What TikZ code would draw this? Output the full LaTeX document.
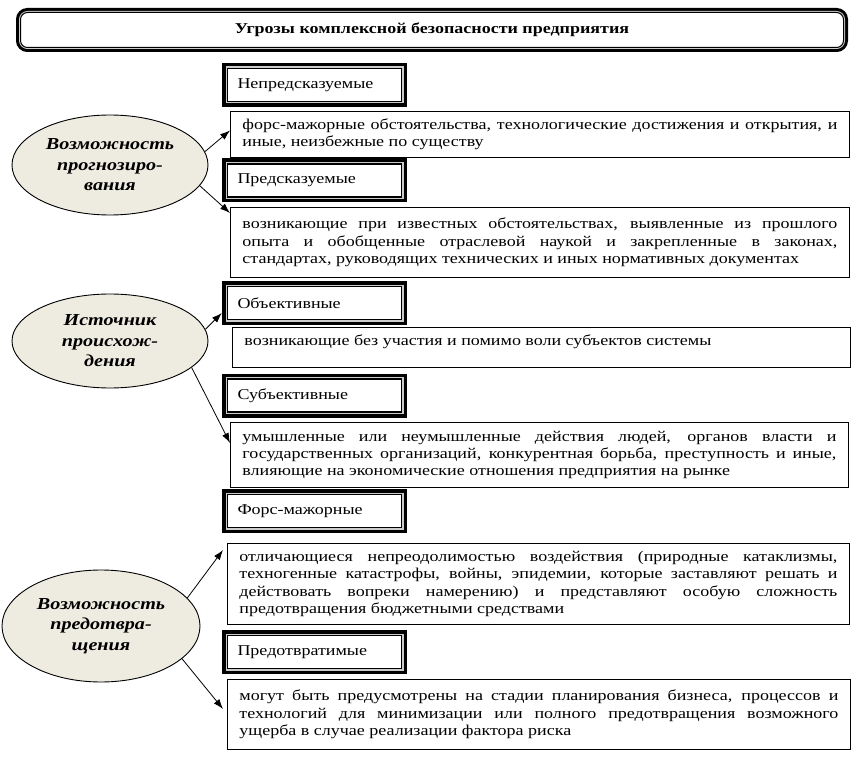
\documentclass[tikz,border=0pt]{standalone}
\usepackage{fontspec}
\setmainfont[FakeStretch=1.2]{Liberation Serif}
\usetikzlibrary{shapes.geometric,arrows.meta}
\definecolor{ovalfill}{RGB}{238,236,225}
\hyphenpenalty=10000
\tikzset{
	titlebox/.style={draw=black, line width=1pt, fill=white, rounded corners=7pt, minimum width=823pt, minimum height=35pt,
		preaction={draw=black, line width=9pt}, preaction={draw=gray!40, line width=3pt}, font=\fontsize{15}{17.3}\selectfont\bfseries},
	headbox/.style={draw=black, line width=1.3pt, fill=white, minimum width=174pt, minimum height=33pt, text width=154pt, inner xsep=10pt, align=left,
		preaction={draw=black, line width=11pt}, preaction={draw=gray!40, line width=4pt}, font=\fontsize{15}{17.3}\selectfont},
	textbox/.style={draw=black, line width=0.9pt, anchor=north west, align=justify, inner xsep=12pt, inner ysep=2pt, font=\fontsize{15}{17.3}\selectfont},
	oval/.style={draw=black, ellipse, fill=ovalfill, line width=0.9pt, inner sep=0pt, align=center, font=\fontsize{16.8}{20.5}\selectfont\bfseries\itshape},
	arr/.style={-{Latex[length=10pt,width=7pt]}, line width=0.8pt},
}
\begin{document}
\begin{tikzpicture}[x=1pt,y=-1pt]
	\useasboundingbox (0,0) rectangle (855,757);
	\node[titlebox] (title) at (432,30) {Угрозы комплексной безопасности предприятия};
	
	% возможность прогнозирования
	\node[oval, minimum width=196pt, minimum height=100pt] (forecast) at (110,165) {Возможность\\прогнозиро-\\вания};
	\node[headbox] (unpred) at (314.5,85) {Непредсказуемые};
	\node[textbox, text width=595pt, minimum width=619pt, minimum height=46pt] (unpredtext) at (230,111) {форс-мажорные обстоятельства, технологические достижения и открытия, и\linebreak иные, неизбежные по существу};
	\node[headbox] (pred) at (314.5,180.5) {Предсказуемые};
	\node[textbox, text width=595pt, minimum width=619pt, minimum height=70pt] (predtext) at (230,207) {возникающие при известных обстоятельствах, выявленные из прошлого\linebreak опыта и обобщенные отраслевой наукой и закрепленные в законах,\linebreak стандартах, руководящих технических и иных нормативных документах};
	
	% источник происхождения
	\node[oval, minimum width=196pt, minimum height=94pt] (source) at (110,341) {Источник\\происхож-\\дения};
	\node[headbox] (objective) at (314.5,303) {Объективные};
	\node[textbox, text width=594pt, minimum width=618pt, minimum height=40pt, text depth=14pt] (objtext) at (232,327) {возникающие без участия и помимо воли субъектов системы};
	\node[headbox] (subjective) at (314.5,395.5) {Субъективные};
	\node[textbox, text width=594pt, minimum width=618pt, minimum height=65pt] (subjtext) at (230,422) {умышленные или неумышленные действия людей, органов власти и\linebreak государственных организаций, конкурентная борьба, преступность и иные,\linebreak влияющие на экономические отношения предприятия на рынке};
	
	% возможность предотвращения
	\node[oval, minimum width=198pt, minimum height=112pt] (prevention) at (101,626) {Возможность\\предотвра-\\щения};
	\node[headbox] (force) at (314.5,511) {Форс-мажорные};
	\node[textbox, text width=598pt, minimum width=622pt, minimum height=81pt] (forcetext) at (227,543) {отличающиеся непреодолимостью воздействия (природные катаклизмы,\linebreak техногенные катастрофы, войны, эпидемии, которые заставляют решать и\linebreak действовать вопреки намерению) и представляют особую сложность\linebreak предотвращения бюджетными средствами};
	\node[headbox] (prevent) at (314.5,652) {Предотвратимые};
	\node[textbox, text width=599pt, minimum width=623pt, minimum height=70pt] (preventtext) at (227,679) {могут быть предусмотрены на стадии планирования бизнеса, процессов и\linebreak технологий для минимизации или полного предотвращения возможного\linebreak ущерба в случае реализации фактора риска};
	
	\draw[arr] (forecast.8) -- ([yshift=4pt]unpredtext.west);
	\draw[arr] (forecast.-13) -- ([yshift=-6pt]predtext.north west);
	\draw[arr] (source.7) -- ([xshift=-5pt,yshift=-10pt]objective.west);
	\draw[arr] (source.-18) -- ([yshift=-21pt]subjtext.north west);
	\draw[arr] (prevention.18) -- ([xshift=-4pt,yshift=-7pt]forcetext.north west);
	\draw[arr] (prevention.-22) -- ([xshift=-4pt,yshift=-30pt]preventtext.north west);
\end{tikzpicture}
\end{document}
